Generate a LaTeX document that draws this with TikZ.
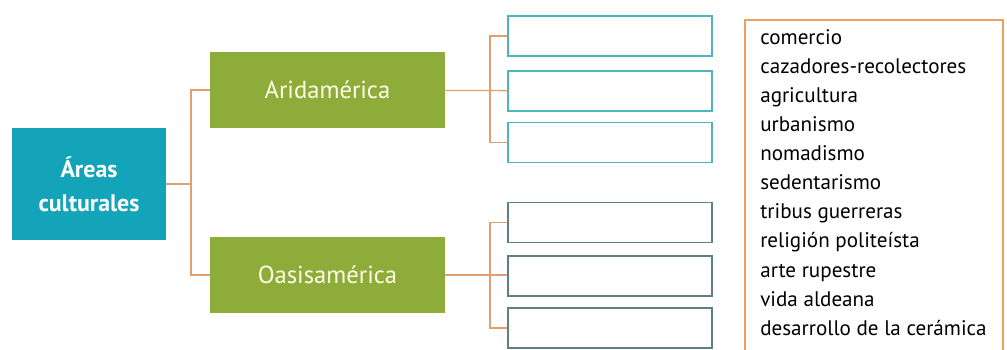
\documentclass[tikz,border=0pt]{standalone}
\usepackage{fontspec}
\setmainfont{PT Sans}
\definecolor{areateal}{RGB}{20,164,186}
\definecolor{areagreen}{RGB}{141,172,58}
\definecolor{linkorange}{RGB}{222,160,112}
\definecolor{listorange}{RGB}{240,160,90}
\definecolor{emptyteal}{RGB}{80,180,190}
\definecolor{emptygray}{RGB}{95,128,130}
\usetikzlibrary{positioning}

\begin{document}
\begin{tikzpicture}[x=0.025cm, y=-0.025cm,
        rootbox/.style={fill=areateal, text=white, minimum width=3.85cm,
                     minimum height=2.8cm, align=center,
                     font=\bfseries\fontsize{17}{24}\selectfont},
        regionbox/.style={fill=areagreen, text=white!90!yellow,
                     minimum width=5.875cm, minimum height=1.875cm,
                     font=\fontsize{17.5}{20}\selectfont},
        emptybox/.style={draw=emptyteal, line width=1.1pt,
                     minimum width=5.1cm, minimum height=1.0cm},
        link/.style={draw=linkorange, line width=0.9pt}
      ]
        \useasboundingbox (0,0) rectangle (1007,349);
        \clip (0,0) rectangle (1007,349);
        % main boxes
        \node[rootbox] (root) at (89,184) {Áreas\\culturales};
        \node[regionbox] (arid) at (327.5,90) {Aridamérica};
        \node[regionbox] (oasis) at (327.5,275) {Oasisamérica};
        % boxes to fill in
        \node[emptybox] (a1) at (610,36) {};
        \node[emptybox] (a2) at (610,91) {};
        \node[emptybox] (a3) at (610,142.5) {};
        \node[emptybox, draw=emptygray] (b1) at (610,222.5) {};
        \node[emptybox, draw=emptygray] (b2) at (610,276) {};
        \node[emptybox, draw=emptygray] (b3) at (610,328) {};
        % connectors
        \coordinate (j1) at (191,184);
        \coordinate (j2) at (490,90);
        \coordinate (j3) at (490,275);
        \draw[link] (root) -- (j1);
        \draw[link] (j1) |- (arid);
        \draw[link] (j1) |- (oasis);
        \draw[link] (arid) -- (a2);
        \draw[link] (j2) |- (a1);
        \draw[link] (j2) |- (a3);
        \draw[link] (oasis) -- (j3) -- (b2.west |- j3);
        \draw[link] (j3) |- (b1);
        \draw[link] (j3) |- (b3);
        % word list
        \draw[listorange, line width=1.1pt] (745,360) -- (745,20) -- (1003,20) -- (1003,360);
        \node[anchor=north west, inner sep=0pt, align=left,
              font=\fontsize{15}{20.7}\selectfont] (words) at (760,29)
          {comercio\\cazadores-recolectores\\agricultura\\urbanismo\\nomadismo\\
           sedentarismo\\tribus guerreras\\religión politeísta\\arte rupestre\\
           vida aldeana\\desarrollo de la cerámica};
      \end{tikzpicture}
\end{document}
